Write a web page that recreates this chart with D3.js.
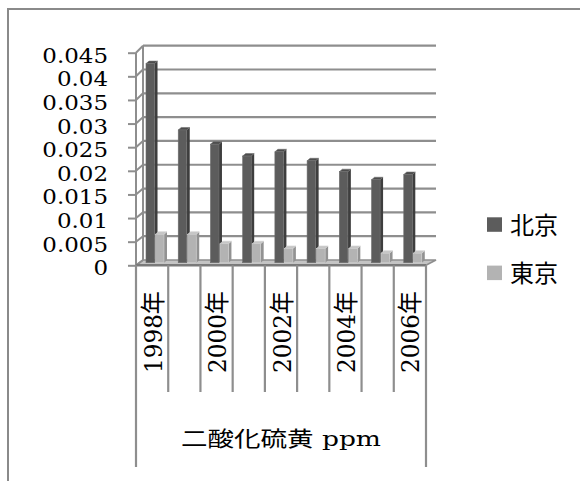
<!DOCTYPE html>
<html>
<head>
<meta charset="utf-8">
<script src="https://cdn.jsdelivr.net/npm/d3@7/dist/d3.min.js"></script>
<style>
  html, body { margin: 0; padding: 0; background: #fff; }
  svg { display: block; }
</style>
</head>
<body>
<svg id="chart" width="580" height="481"></svg>
<script>
// Sulfur dioxide concentration (ppm), Beijing vs Tokyo, 1998-2006
const years = ["1998年", "1999年", "2000年", "2001年", "2002年", "2003年", "2004年", "2005年", "2006年"];
const seriesNames = ["北京", "東京"];
const beijing = [0.042, 0.028, 0.025, 0.0225, 0.0234, 0.0215, 0.0192, 0.0175, 0.0186];
const tokyo = [0.006, 0.006, 0.004, 0.004, 0.003, 0.003, 0.003, 0.002, 0.002];
const yTicks = [0, 0.005, 0.01, 0.015, 0.02, 0.025, 0.03, 0.035, 0.04, 0.045];
const yTickLabels = ["0", "0.005", "0.01", "0.015", "0.02", "0.025", "0.03", "0.035", "0.04", "0.045"];
const axisTitle = "二酸化硫黄  ppm";

const serif = "'DejaVu Serif', 'Noto Sans CJK JP', serif";
const svg = d3.select("#chart");

// chart frame
svg.append("rect")
  .attr("x", 8).attr("y", 9).attr("width", 620).attr("height", 520)
  .attr("fill", "#fff").attr("stroke", "#8a8a8a").attr("stroke-width", 2);

// 3D projection: front plane, back wall, and the bar plane in between
const depth = { dx: 7, dy: -5.5 };
const x = d3.scaleBand().domain(years).range([136, 426]).paddingInner(0).paddingOuter(0);
const xs = d3.scaleBand().domain(seriesNames).range([10, 28]).paddingInner(0.1);
const yFront = d3.scaleLinear().domain([0, 0.045]).range([265.3, 52.7]);
const yBack = d3.scaleLinear().domain([0, 0.045]).range([260, 45.7]);
const yBar = d3.scaleLinear().domain([0, 0.045]).range([262.7, 262.7 - 0.045 * 4740]);

const gridColor = "#8e8e8e";
const plot = svg.append("g");

// floor
const fx0 = x.range()[0], fx1 = x.range()[1];
plot.append("path")
  .attr("d", `M${fx0},${yFront(0)} L${fx0 + depth.dx},${yBack(0)} L${fx1 + depth.dx + 3},${yBack(0)} L${fx1},${yFront(0)} Z`)
  .attr("fill", "#c4c4c4").attr("stroke", gridColor).attr("stroke-width", 1.6);

// back wall gridlines
plot.selectAll(".grid").data(yTicks.slice(1)).join("line")
  .attr("x1", fx0 + depth.dx).attr("x2", fx1 + depth.dx + 3)
  .attr("y1", d => yBack(d)).attr("y2", d => yBack(d))
  .attr("stroke", gridColor).attr("stroke-width", 2.2);

// side wall: back edge, front axis and connecting diagonals
plot.append("line")
  .attr("x1", fx0 + depth.dx).attr("x2", fx0 + depth.dx)
  .attr("y1", yBack(0.045)).attr("y2", yBack(0))
  .attr("stroke", gridColor).attr("stroke-width", 2);
plot.selectAll(".diag").data(yTicks).join("line")
  .attr("x1", fx0).attr("y1", d => yFront(d))
  .attr("x2", fx0 + depth.dx).attr("y2", d => yBack(d))
  .attr("stroke", gridColor).attr("stroke-width", 2);

// bars
const bd = { dx: 3, dy: 2.5 };
const shades = {
  "北京": { front: "#5c5c5c", side: "#3e3e3e", top: "#4c4c4c", edge: "#6e6e6e" },
  "東京": { front: "#b3b3b3", side: "#929292", top: "#c6c6c6", edge: "#cfcfcf" }
};
const rows = [];
years.forEach((yr, i) => {
  rows.push({ year: yr, series: "北京", value: beijing[i] });
  rows.push({ year: yr, series: "東京", value: tokyo[i] });
});
const bars = plot.selectAll(".bar").data(rows).join("g");
bars.each(function (d) {
  const g = d3.select(this);
  const x0 = x(d.year) + xs(d.series);
  const w = xs.bandwidth();
  const base = yBar(0);
  const top = yBar(d.value);
  const c = shades[d.series];
  g.append("path")
    .attr("d", `M${x0 + w},${top} L${x0 + w + bd.dx},${top - bd.dy} L${x0 + w + bd.dx},${base - bd.dy} L${x0 + w},${base} Z`)
    .attr("fill", c.side);
  g.append("path")
    .attr("d", `M${x0},${top} L${x0 + bd.dx},${top - bd.dy} L${x0 + w + bd.dx},${top - bd.dy} L${x0 + w},${top} Z`)
    .attr("fill", c.top).attr("stroke", c.edge).attr("stroke-width", 0.6);
  g.append("rect")
    .attr("x", x0).attr("y", top).attr("width", w).attr("height", base - top)
    .attr("fill", c.front).attr("stroke", c.edge).attr("stroke-width", 0.6);
});

// front value axis with ticks
const yAxis = d3.axisLeft(yFront).tickValues(yTicks).tickSize(8).tickFormat("");
const ya = svg.append("g").attr("transform", `translate(${fx0},0)`).call(yAxis);
ya.selectAll("path, line").attr("stroke", gridColor).attr("stroke-width", 2);
ya.select(".domain").attr("d", `M0,${yFront(0.045)}V${yFront(0)}`);

// value labels
const labelG = svg.append("g");
yTicks.forEach((v, i) => {
  labelG.append("text")
    .attr("transform", `translate(108,${yFront(v) + 2.5 + 7.5}) scale(1.12,1)`)
    .attr("text-anchor", "end")
    .attr("font-family", serif)
    .attr("font-size", 20.5)
    .attr("fill", "#000")
    .text(yTickLabels[i]);
});

// category axis: front floor edge and tick marks
svg.append("line")
  .attr("x1", fx0).attr("x2", fx1).attr("y1", yFront(0)).attr("y2", yFront(0))
  .attr("stroke", "#7a7a7a").attr("stroke-width", 2.4);
const edges = years.map(y => x(y)).concat([fx1]);
svg.selectAll(".ctick").data(edges).join("line")
  .attr("x1", d => d).attr("x2", d => d)
  .attr("y1", yFront(0)).attr("y2", (d, i) => (i === 0 || i === edges.length - 1) ? 467 : 392)
  .attr("stroke", gridColor).attr("stroke-width", 2.2);

// category labels (every second year), rotated
svg.selectAll(".clabel").data(years.filter((d, i) => i % 2 === 0)).join("text")
  .attr("transform", d => `translate(${x(d) + x.bandwidth() / 2 + 9.5},373) rotate(-90)`)
  .attr("text-anchor", "start")
  .attr("font-family", serif)
  .attr("font-size", 25)
  .attr("textLength", 82).attr("lengthAdjust", "spacingAndGlyphs")
  .attr("fill", "#000")
  .text(d => d);

// outer category level title
svg.append("text")
  .attr("x", (fx0 + fx1) / 2).attr("y", 445.5)
  .attr("text-anchor", "middle")
  .attr("font-family", serif)
  .attr("font-size", 21)
  .attr("textLength", 200).attr("lengthAdjust", "spacingAndGlyphs")
  .attr("fill", "#000")
  .text(axisTitle);

// legend
const legend = svg.append("g");
const legendY = d3.scaleOrdinal().domain(seriesNames).range([224.5, 272.8]);
seriesNames.forEach(s => {
  legend.append("rect")
    .attr("x", 487).attr("y", legendY(s) - 7.2).attr("width", 15).attr("height", 14.5)
    .attr("fill", shades[s].front);
  legend.append("text")
    .attr("x", 510).attr("y", legendY(s) + 9)
    .attr("font-family", "'Noto Sans CJK JP', sans-serif")
    .attr("font-size", 24)
    .attr("textLength", 48).attr("lengthAdjust", "spacingAndGlyphs")
    .attr("fill", "#000")
    .text(s);
});
</script>
</body>
</html>
